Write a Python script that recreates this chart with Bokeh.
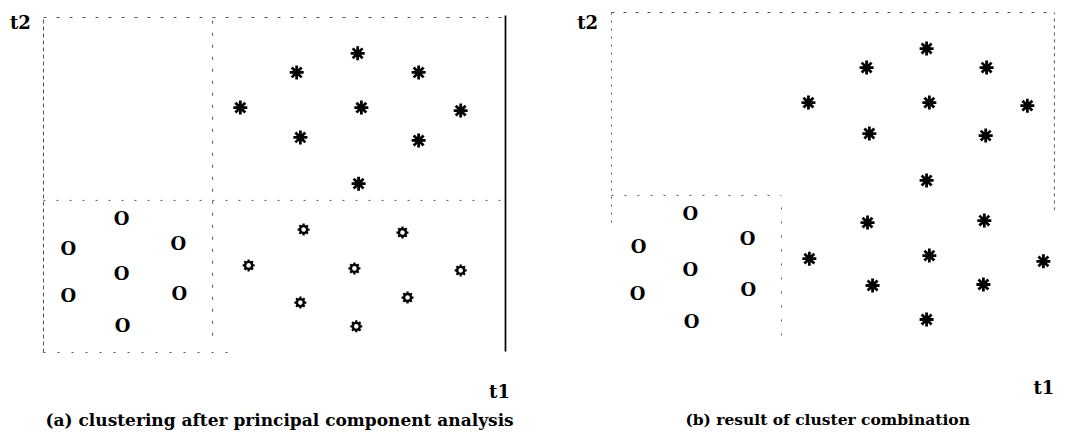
from bokeh.plotting import figure
from bokeh.layouts import row
from bokeh.models import Label
from bokeh.core.properties import value
from bokeh.embed import file_html
from bokeh.resources import INLINE

# ---------------- data: panel (a) clustering after PCA ----------------
a_star_t1 = [6.80, 5.48, 8.12, 4.26, 6.88, 9.03, 5.56, 8.12, 6.82]
a_star_t2 = [8.93, 8.36, 8.36, 7.31, 7.31, 7.22, 6.42, 6.33, 5.04]
a_circ_t1 = [1.69, 0.54, 2.92, 1.69, 0.54, 2.94, 1.71]
a_circ_t2 = [4.00, 3.10, 3.25, 2.36, 1.70, 1.76, 0.81]
a_gear_t1 = [5.63, 7.77, 4.44, 6.73, 9.03, 5.56, 7.88, 6.77]
a_gear_t2 = [3.67, 3.58, 2.60, 2.51, 2.45, 1.49, 1.64, 0.78]
a_split_t1 = 3.66
a_split_t2 = 4.54

# ---------------- data: panel (b) result of cluster combination -------
b_star_t1 = [6.88, 5.57, 8.19, 4.30, 6.94, 9.08, 5.63, 8.17, 6.88,
             5.59, 8.14, 4.32, 6.94, 9.43, 5.70, 8.12, 6.88]
b_star_t2 = [8.94, 8.38, 8.38, 7.35, 7.35, 7.26, 6.44, 6.38, 5.06,
             3.82, 3.88, 2.76, 2.85, 2.68, 1.97, 2.00, 0.97]
b_circ_t1 = [1.72, 0.59, 2.97, 1.72, 0.57, 2.99, 1.75]
b_circ_t2 = [4.09, 3.12, 3.35, 2.44, 1.74, 1.85, 0.91]
b_split_t1 = 3.71
b_split_t2 = 4.62

captions = ["(a) clustering after principal component analysis",
            "(b) result of cluster combination"]
x_label = "t1"
y_label = "t2"

FONT = "DejaVu Serif"
W, H = 528, 431
LINE = "#555555"


def make_fig(xr, yr):
    p = figure(width=W, height=H, x_range=xr, y_range=yr,
               x_axis_type=None, y_axis_type=None,
               toolbar_location=None, output_backend="svg",
               min_border=0, outline_line_color=None,
               background_fill_color="white", border_fill_color="white")
    p.xgrid.visible = False
    p.ygrid.visible = False
    return p


def stars(p, xs, ys):
    p.scatter(xs, ys, marker="asterisk", size=14, line_width=2.8,
              line_color="black")


def circles(p, xs, ys):
    p.text(xs, ys, text=["O"] * len(xs), text_font=value(FONT),
           text_font_style="bold", text_font_size="18px",
           text_align="center", text_baseline="middle", text_color="black")


def gears(p, xs, ys):
    p.scatter(xs, ys, marker="asterisk", size=12, line_width=2.2,
              line_color="black")
    p.scatter(xs, ys, marker="circle", size=7, line_width=2.4,
              line_color="black", fill_color="white")


def label(p, x, y, txt, size, align="center"):
    p.add_layout(Label(x=x, y=y, text=txt, text_font=FONT,
                       text_font_style="bold", text_font_size=size,
                       text_align=align, text_baseline="middle",
                       text_color="black"))


# ---------------- panel (a) ----------------
pa = make_fig((-0.931, 10.498), (-2.358, 10.507))
pa.line([0, 0], [0, 10], line_color=LINE, line_width=1, line_dash="4 3")
pa.line([0, 10], [10, 10], line_color=LINE, line_width=1, line_dash="3 10")
pa.line([10, 10], [0.03, 10.06], line_color="black", line_width=1.7)
pa.line([0, 4.0], [0, 0], line_color=LINE, line_width=1, line_dash="2 12")
pa.line([0, 10], [a_split_t2, a_split_t2], line_color=LINE, line_width=1,
        line_dash="2 11")
pa.line([a_split_t1, a_split_t1], [0.5, 10], line_color=LINE, line_width=1,
        line_dash="3 9")
stars(pa, a_star_t1, a_star_t2)
circles(pa, a_circ_t1, a_circ_t2)
gears(pa, a_gear_t1, a_gear_t2)
label(pa, -0.50, 9.85, y_label, "18px")
label(pa, 9.87, -1.16, x_label, "18px")
label(pa, 5.11, -2.01, captions[0], "17px")

# ---------------- panel (b) ----------------
pb = make_fig((-1.812, 9.716), (-2.324, 10.353))
pb.line([0, 9.67], [10, 10], line_color=LINE, line_width=1, line_dash="3 9")
pb.line([0, 0], [3.82, 10], line_color=LINE, line_width=1, line_dash="2 6")
pb.line([9.67, 9.67], [4.18, 10], line_color=LINE, line_width=1,
        line_dash="3 4")
pb.line([0, b_split_t1], [b_split_t2, b_split_t2], line_color=LINE,
        line_width=1, line_dash="2 11")
pb.line([b_split_t1, b_split_t1], [0.5, b_split_t2], line_color=LINE,
        line_width=1, line_dash="2 12")
stars(pb, b_star_t1, b_star_t2)
circles(pb, b_circ_t1, b_circ_t2)
label(pb, -0.52, 9.71, y_label, "18px")
label(pb, 9.67, -1.03, x_label, "18px", align="right")
label(pb, 4.72, -1.98, captions[1], "15.5px")

layout = row(pa, pb, spacing=0)
open("out.html", "w").write(file_html(layout, INLINE))
